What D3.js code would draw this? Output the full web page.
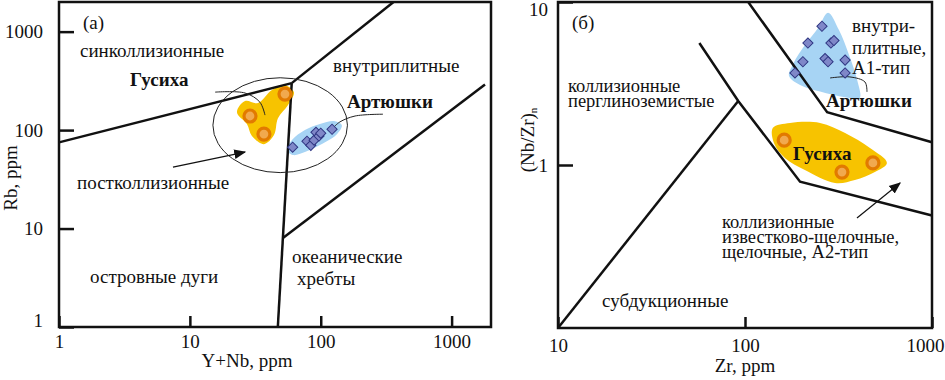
<!DOCTYPE html>
<meta charset="utf-8">
<script src="https://d3js.org/d3.v7.min.js"></script>
<style>
  body { margin: 0; background: #fff; }
  text { font-family: "Liberation Serif", "Times New Roman", serif; fill: #111; }
</style>
<div id="chart"></div>
<script>
// ---- data: left panel, Rb vs Y+Nb (ppm)
var leftBounds = [
  [[1, 75], [60, 300]],
  [[60, 300], [360, 2000]],
  [[60, 300], [47, 1]],
  [[51.4, 8], [1800, 290]]
];
var leftGusikha = [[28.8, 139], [36.8, 91], [53.3, 232]];
var leftArtyushki = [[61, 67], [78.5, 77], [84, 70], [89, 79], [92, 95], [97, 87], [100, 93], [122, 102]];
var leftGusikhaField = [[22.9, 152], [26.4, 197], [33.1, 188], [42.4, 255], [53.3, 286], [62.4, 243],
  [56.1, 179], [47.1, 132], [43.9, 89], [36.8, 72], [29.8, 87], [27.3, 115]];
var leftArtyushkiField = [[55.2, 62.7], [60.3, 79.1], [75.7, 100], [98.6, 115], [128, 123], [145, 112],
  [131, 89], [98.6, 70.4], [75.7, 59.8], [61.3, 55.7]];
var leftEllipse = { x: [15, 160], y: [37, 340] };
var leftLeaders = [
  [[15.6, 243], [26.4, 238], [34.3, 192], [37.5, 142]],
  [[299, 145], [183, 139], [140, 121], [124, 105]]
];
var leftArrow = [[7.43, 42.1], [26.4, 59.8]];
var leftXTicks = [1, 10, 100, 1000];
var leftYTicks = [1, 10, 100, 1000];

// ---- data: right panel, (Nb/Zr)n vs Zr (ppm)
var rightBounds = [
  [[10, 0.1], [92, 2.47]],
  [[57, 5.6], [92, 2.47], [197, 0.79], [1000, 0.49]],
  [[104, 10], [275, 2.11], [1000, 1.38]]
];
var rightGusikha = [[162, 1.42], [330, 0.905], [483, 1.03]];
var rightArtyushki = [[258, 7.1], [217, 5.6], [288, 5.6], [299, 5.8], [204, 4.3], [268, 4.5],
  [278, 4.3], [343, 4.4], [185, 3.67], [343, 3.67]];
var rightGusikhaField = [[141, 1.69], [174, 1.81], [252, 1.81], [343, 1.57], [466, 1.27], [574, 1.03],
  [495, 0.906], [387, 0.809], [303, 0.776], [209, 0.931], [164, 1.10], [143, 1.36]];
var rightArtyushkiField = [[278, 8.6], [246, 6.92], [209, 5.44], [181, 4.17], [172, 3.52], [197, 3.1],
  [252, 2.82], [343, 2.6], [410, 2.56], [398, 3.32], [360, 4.73], [318, 6.73]];
var rightLeaders = [
  [[285, 3.42], [364, 3.47], [438, 3.23], [449, 2.81]]
];
var rightArrow = [[397, 0.473], [675, 0.776]];
var rightXTicks = [10, 100, 1000];
var rightYTicks = [1, 10];

var width = 945, height = 380;
var orangeField = "#F7C300", ringColor = "#E27A00", ringFill = "#F1A94E";
var blueField = "#A7D4F4", diaFill = "#7F87C8", diaStroke = "#2F3682";

var svg = d3.select("#chart").append("svg")
  .attr("width", width)
  .attr("height", height)
  .style("font-family", "'Liberation Serif', serif");

svg.append("defs").append("marker")
  .attr("id", "arrow")
  .attr("viewBox", "0 0 10 10")
  .attr("refX", 9).attr("refY", 5)
  .attr("markerWidth", 12).attr("markerHeight", 12)
  .attr("markerUnits", "userSpaceOnUse")
  .attr("orient", "auto")
  .append("path")
    .attr("d", "M0,1 L10,5 L0,9 Z")
    .attr("fill", "#111");

function drawPanel(p) {
  var x = p.x, y = p.y;
  var g = svg.append("g");
  var line = d3.line().x(function(d){ return x(d[0]) }).y(function(d){ return y(d[1]) });
  var blob = d3.line().x(function(d){ return x(d[0]) }).y(function(d){ return y(d[1]) })
    .curve(d3.curveCatmullRomClosed.alpha(0.5));
  var smooth = d3.line().x(function(d){ return x(d[0]) }).y(function(d){ return y(d[1]) })
    .curve(d3.curveCatmullRom.alpha(0.5));

  // fields
  g.append("path").attr("d", blob(p.orangeField)).attr("fill", orangeField);
  g.append("path").attr("d", blob(p.blueField)).attr("fill", blueField);

  // boundaries
  g.selectAll(".bound").data(p.bounds).enter().append("path")
    .attr("d", line)
    .attr("fill", "none")
    .attr("stroke", "#111")
    .attr("stroke-width", 2.5);

  if (p.ellipse) {
    var ex = p.ellipse.x.map(x), ey = p.ellipse.y.map(y);
    g.append("ellipse")
      .attr("cx", (ex[0] + ex[1]) / 2).attr("cy", (ey[0] + ey[1]) / 2)
      .attr("rx", Math.abs(ex[1] - ex[0]) / 2).attr("ry", Math.abs(ey[1] - ey[0]) / 2)
      .attr("fill", "none").attr("stroke", "#222").attr("stroke-width", 1);
  }

  // leader curves and arrow
  g.selectAll(".leader").data(p.leaders).enter().append("path")
    .attr("d", smooth)
    .attr("fill", "none").attr("stroke", "#222").attr("stroke-width", 1);
  g.append("path").attr("d", line(p.arrow))
    .attr("stroke", "#111").attr("stroke-width", 1.2)
    .attr("marker-end", "url(#arrow)");

  // samples
  g.selectAll(".dia").data(p.diamonds).enter().append("path")
    .attr("d", d3.symbol().type(d3.symbolSquare).size(52))
    .attr("transform", function(d){ return "translate(" + x(d[0]) + "," + y(d[1]) + ") rotate(45)" })
    .attr("fill", diaFill).attr("stroke", diaStroke).attr("stroke-width", 1);
  g.selectAll(".circ").data(p.circles).enter().append("circle")
    .attr("cx", function(d){ return x(d[0]) })
    .attr("cy", function(d){ return y(d[1]) })
    .attr("r", 6)
    .attr("fill", ringFill).attr("stroke", ringColor).attr("stroke-width", 3.2);

  // frame
  var xr = x.range(), yr = y.range();
  g.append("rect")
    .attr("x", xr[0]).attr("y", yr[1])
    .attr("width", xr[1] - xr[0]).attr("height", yr[0] - yr[1])
    .attr("fill", "none").attr("stroke", "#111").attr("stroke-width", 2.5);

  // axes
  var ax = g.append("g").attr("transform", "translate(0," + yr[0] + ")")
    .call(d3.axisBottom(x).tickValues(p.xTicks).tickSize(-11).tickPadding(p.xPad).tickFormat(d3.format("d")));
  var ay = g.append("g").attr("transform", "translate(" + xr[0] + ",0)")
    .call(d3.axisLeft(y).tickValues(p.yTicks).tickSize(-15).tickPadding(p.yPad).tickFormat(d3.format("d")));
  [ax, ay].forEach(function(a){
    a.select(".domain").remove();
    a.attr("font-family", null).attr("font-size", null);
    a.selectAll("line").attr("stroke", "#111").attr("stroke-width", 2.5);
    a.selectAll("text").style("font-size", "19px").attr("fill", "#111");
  });
  ay.selectAll(".tick text").attr("dy", function(d){
    if (y(d) > yr[0] - 2) return "-0.05em";
    if (y(d) < yr[1] + 2) return "0.72em";
    return "0.32em";
  });
  // last x label pulled inside the page when it would fall off the edge
  ax.selectAll(".tick text").attr("dx", function(d){
    return x(d) + 20 > width ? (width - 20 - x(d)) : 0;
  });

  // axis titles
  g.append("text")
    .attr("x", p.xTitle[0]).attr("y", p.xTitle[1])
    .attr("text-anchor", "middle").style("font-size", "19px")
    .text(p.xLabel);
  var yt = g.append("text")
    .attr("transform", "translate(" + p.yTitle[0] + "," + p.yTitle[1] + ") rotate(-90)")
    .attr("text-anchor", "middle").style("font-size", "19px");
  yt.append("tspan").text(p.yLabel);
  if (p.ySub) yt.append("tspan").attr("dy", "0.3em").style("font-size", "11px").text(p.ySub);

  // region labels
  g.selectAll(".lab").data(p.labels).enter().append("text")
    .attr("x", function(d){ return d.at[0] })
    .attr("y", function(d){ return d.at[1] })
    .style("font-size", function(d){ return (d.size || 19) + "px" })
    .style("font-weight", function(d){ return d.bold ? "bold" : "normal" })
    .text(function(d){ return d.t });
}

drawPanel({
  x: d3.scaleLog().domain([1, 2000]).range([59, 491]),
  y: d3.scaleLog().domain([1, 2000]).range([327, 2]),
  bounds: leftBounds, circles: leftGusikha, diamonds: leftArtyushki,
  orangeField: leftGusikhaField, blueField: leftArtyushkiField,
  ellipse: leftEllipse, leaders: leftLeaders, arrow: leftArrow,
  xTicks: leftXTicks, yTicks: leftYTicks, xPad: 8, yPad: 16,
  xLabel: "Y+Nb, ppm", xTitle: [247, 367],
  yLabel: "Rb, ppm", yTitle: [17, 178],
  labels: [
    { t: "(а)", at: [83, 29] },
    { t: "синколлизионные", at: [80, 57] },
    { t: "Гусиха", at: [130, 86], bold: true },
    { t: "внутриплитные", at: [333, 72] },
    { t: "Артюшки", at: [347, 108], bold: true },
    { t: "постколлизионные", at: [77, 189] },
    { t: "островные дуги", at: [90, 283] },
    { t: "океанические", at: [292, 263] },
    { t: "хребты", at: [297, 285] }
  ]
});

drawPanel({
  x: d3.scaleLog().domain([10, 1000]).range([558, 932]),
  y: d3.scaleLog().domain([0.1, 10]).range([328, 2]),
  bounds: rightBounds, circles: rightGusikha, diamonds: rightArtyushki,
  orangeField: rightGusikhaField, blueField: rightArtyushkiField,
  ellipse: null, leaders: rightLeaders, arrow: rightArrow,
  xTicks: rightXTicks, yTicks: rightYTicks, xPad: 11, yPad: 10,
  xLabel: "Zr, ppm", xTitle: [745, 372],
  yLabel: "(Nb/Zr)", ySub: "n", yTitle: [534, 140],
  labels: [
    { t: "(б)", at: [572, 29] },
    { t: "коллизионные", at: [568, 92], size: 18.5 },
    { t: "перглиноземистые", at: [568, 107], size: 18.5 },
    { t: "внутри-", at: [852, 32] },
    { t: "плитные,", at: [852, 54] },
    { t: "А1-тип", at: [852, 74] },
    { t: "Артюшки", at: [826, 107], bold: true },
    { t: "Гусиха", at: [793, 160], bold: true },
    { t: "коллизионные", at: [722, 228], size: 18.5 },
    { t: "известково-щелочные,", at: [722, 243], size: 18.5 },
    { t: "щелочные, А2-тип", at: [722, 258], size: 18.5 },
    { t: "субдукционные", at: [602, 307] }
  ]
});
</script>
